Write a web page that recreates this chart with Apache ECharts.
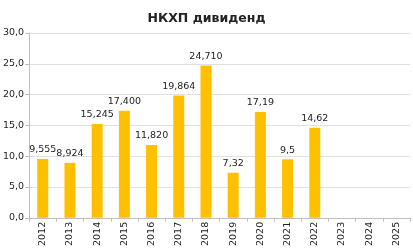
<!DOCTYPE html>
<html><head><meta charset="utf-8">
<script src="https://cdn.jsdelivr.net/npm/echarts@6/dist/echarts.min.js"></script>
<style>html,body{margin:0;padding:0;background:#fff}#c{width:413px;height:249px}</style>
</head><body><div id="c"></div>
<script>
var categories = ['2012','2013','2014','2015','2016','2017','2018','2019','2020','2021','2022','2023','2024','2025'];
var values = [9.555, 8.924, 15.245, 17.400, 11.820, 19.864, 24.710, 7.32, 17.19, 9.5, 14.62, null, null, null];
var valueLabels = ['9,555','8,924','15,245','17,400','11,820','19,864','24,710','7,32','17,19','9,5','14,62','','',''];
var yTicks = [0, 5, 10, 15, 20, 25, 30];
var chart = echarts.init(document.getElementById('c'));
chart.setOption({
  animation: false,
  title: {text: 'НКХП дивиденд', left: 'center', top: 7, textStyle: {fontFamily: 'DejaVu Sans', fontSize: 12.5, fontWeight: 'bold', color: '#222'}},
  grid: {left: 25, right: 3, top: 33, bottom: 31},
  xAxis: {type: 'category', data: categories,
    axisLine: {lineStyle: {color: '#bfbfbf'}},
    axisTick: {show: true, lineStyle: {color: '#bfbfbf'}, length: 4},
    axisLabel: {rotate: 90, fontFamily: 'DejaVu Sans', fontSize: 9.5, color: '#222', margin: 4}},
  yAxis: {type: 'value', min: 0, max: 30, interval: 5,
    axisLine: {show: true, lineStyle: {color: '#bfbfbf'}},
    axisTick: {show: true, length: 4, inside: false, lineStyle: {color: '#bfbfbf'}},
    splitLine: {lineStyle: {color: '#e0e0e0'}},
    axisLabel: {fontFamily: 'DejaVu Sans', fontSize: 9.5, color: '#222', margin: 5,
      formatter: function (v) { return yTicks.indexOf(v) >= 0 ? v.toFixed(1).replace('.', ',') : ''; }}},
  series: [{type: 'bar', data: values, barWidth: 11, itemStyle: {color: '#FFC000'},
    label: {show: true, position: 'top', distance: 4, fontFamily: 'DejaVu Sans', fontSize: 9.5, color: '#222',
      formatter: function (p) { return valueLabels[p.dataIndex]; }}}]
});
</script></body></html>
